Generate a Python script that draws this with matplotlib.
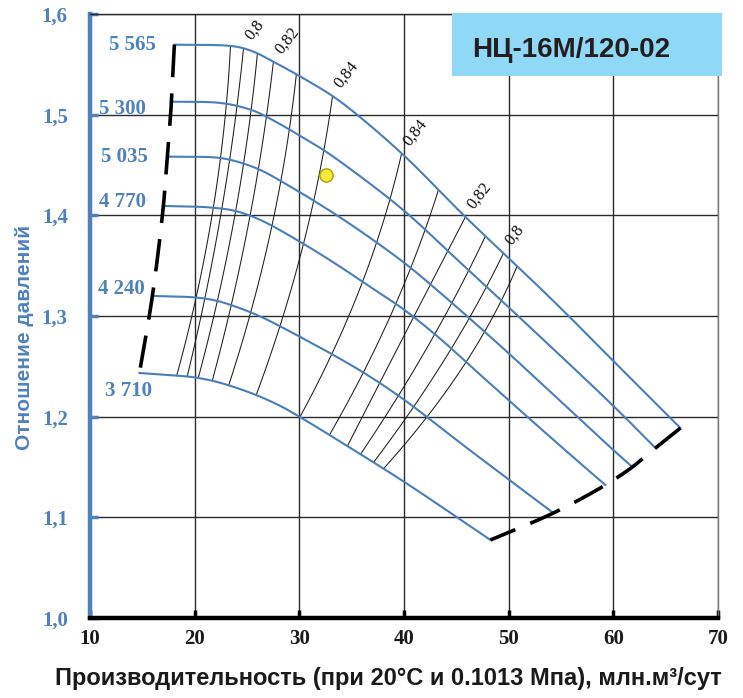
import numpy as np
import matplotlib
matplotlib.use("Agg")
import matplotlib.pyplot as plt
from matplotlib.patches import Rectangle

# ---------------- data ----------------
speed_labels = ["5 565", "5 300", "5 035", "4 770", "4 240", "3 710"]

q_5565 = [18.06, 22.94, 24.37, 25.80, 27.52, 30.01, 33.16, 35.55, 40.04, 45.87, 54.18, 60.10, 66.41]
r_5565 = [1.5695, 1.5687, 1.5667, 1.5618, 1.5526, 1.5384, 1.5186, 1.4997, 1.4590, 1.3984, 1.3159, 1.2543, 1.1887]

q_5300 = [17.78, 21.98, 23.89, 25.80, 27.71, 30.10, 32.30, 34.88, 40.04, 44.91, 50.17, 60.01, 64.02]
r_5300 = [1.5129, 1.5121, 1.5091, 1.5032, 1.4932, 1.4788, 1.4649, 1.4460, 1.4043, 1.3576, 1.3070, 1.2106, 1.1689]

q_5035 = [17.39, 22.17, 24.08, 26.28, 29.15, 32.30, 35.55, 40.04, 43.48, 47.30, 50.07, 60.10, 61.82]
r_5035 = [1.4583, 1.4573, 1.4533, 1.4450, 1.4285, 1.4086, 1.3864, 1.3527, 1.3229, 1.2881, 1.2623, 1.1659, 1.1500]

q_4770 = [17.01, 21.50, 23.89, 26.28, 30.10, 33.64, 36.79, 40.04, 43.48, 47.30, 54.94, 59.24]
r_4770 = [1.4093, 1.4078, 1.4043, 1.3954, 1.3735, 1.3507, 1.3288, 1.3060, 1.2772, 1.2414, 1.1709, 1.1321]

q_4240 = [15.96, 20.07, 21.98, 23.89, 26.28, 28.19, 30.10, 33.25, 36.50, 40.04, 45.39, 50.07, 54.27]
r_4240 = [1.3199, 1.3184, 1.3154, 1.3094, 1.2995, 1.2896, 1.2791, 1.2613, 1.2414, 1.2166, 1.1738, 1.1371, 1.1043]

q_3710 = [14.72, 18.16, 20.07, 21.98, 23.89, 25.99, 28.19, 30.00, 34.88, 40.04, 48.26]
r_3710 = [1.2434, 1.2409, 1.2389, 1.2349, 1.2290, 1.2210, 1.2106, 1.2000, 1.1689, 1.1351, 1.0775]

# iso-efficiency lines: Q values from the 5565 curve down to the 3710 curve,
# with the pressure ratio of the interior points
eff_left_r = [1.385, 1.300]
eff_L1_q = [23.41, 21.50, 19.59, 18.35]
eff_L2_q = [24.66, 22.27, 20.55, 19.31]
eff_L3_q = [25.99, 23.60, 21.79, 20.36]
eff_L4_q = [27.52, 25.04, 23.22, 21.69]
eff_L5_q = [29.72, 27.24, 25.32, 23.22]
eff_L6_q = [33.16, 30.77, 28.38, 25.90]

eff_R1_q = [39.85, 38.51, 35.84, 34.40, 30.00]
eff_R1_r = [1.4152, 1.3328, 1.2861]
eff_R2_q = [43.29, 39.37, 32.87]
eff_R2_r = [1.3159]
eff_R3_q = [45.87, 41.76, 34.59]
eff_R3_r = [1.3159]
eff_R4_q = [47.78, 44.72, 35.84]
eff_R4_r = [1.3159]
eff_R5_q = [49.50, 47.20, 37.08]
eff_R5_r = [1.3159]
eff_R6_q = [50.84, 49.21, 47.30, 38.03]
eff_R6_r = [1.3159, 1.2761]

eff_labels = ["0,8", "0,82", "0,84", "0,84", "0,82", "0,8"]

point_q = [32.5]
point_r = [1.44]

x_ticks = [10, 20, 30, 40, 50, 60, 70]
x_ticklabels = ["10", "20", "30", "40", "50", "60", "70"]
y_ticks = [1.0, 1.1, 1.2, 1.3, 1.4, 1.5, 1.6]
y_ticklabels = ["1,0", "1,1", "1,2", "1,3", "1,4", "1,5", "1,6"]

title = "НЦ-16М/120-02"
xlabel = "Производительность (при 20°C и 0.1013 Мпа), млн.м³/сут"
ylabel = "Отношение давлений"

# ---------------- helpers ----------------
RS = 96.0  # aspect scaling of ratio vs Q for smooth parameterisation


def smooth(q, r, n=30):
    """Centripetal Catmull-Rom spline through the given points."""
    P = np.column_stack([np.asarray(q, float), np.asarray(r, float) * RS])
    if len(P) < 3:
        return P[:, 0], P[:, 1] / RS
    E = np.vstack([2 * P[0] - P[1], P, 2 * P[-1] - P[-2]])
    out = []
    for i in range(1, len(E) - 2):
        p0, p1, p2, p3 = E[i - 1], E[i], E[i + 1], E[i + 2]
        t0 = 0.0
        t1 = t0 + np.linalg.norm(p1 - p0) ** 0.5
        t2 = t1 + np.linalg.norm(p2 - p1) ** 0.5
        t3 = t2 + np.linalg.norm(p3 - p2) ** 0.5
        t = np.linspace(t1, t2, n, endpoint=False)[:, None]
        a1 = (t1 - t) / (t1 - t0) * p0 + (t - t0) / (t1 - t0) * p1
        a2 = (t2 - t) / (t2 - t1) * p1 + (t - t1) / (t2 - t1) * p2
        a3 = (t3 - t) / (t3 - t2) * p2 + (t - t2) / (t3 - t2) * p3
        b1 = (t2 - t) / (t2 - t0) * a1 + (t - t0) / (t2 - t0) * a2
        b2 = (t3 - t) / (t3 - t1) * a2 + (t - t1) / (t3 - t1) * a3
        c = (t2 - t) / (t2 - t1) * b1 + (t - t1) / (t2 - t1) * b2
        out.append(c)
    out.append(P[-1:])
    S = np.vstack(out)
    return S[:, 0], S[:, 1] / RS


BLUE = "#4f81bd"
CURVE = "#4a7ebb"

fig = plt.figure(figsize=(7.43, 6.98), dpi=100)
ax = fig.add_axes([90 / 743, 80 / 698, 628 / 743, 604 / 698])
ax.set_xlim(10, 70)
ax.set_ylim(1.0, 1.6)

ax.set_axisbelow(True)
ax.grid(True, color="#2b2b2b", lw=1.0)
ax.set_xticks(x_ticks)
ax.set_yticks(y_ticks)
ax.set_xticklabels(x_ticklabels, fontfamily="Liberation Serif", fontweight="bold",
                   fontsize=15, color="#1a1a1a")
ax.set_yticklabels(y_ticklabels, fontfamily="Liberation Serif", fontweight="bold",
                   fontsize=15, color=BLUE)
ax.tick_params(axis="y", direction="in", length=6, width=2.5, color=BLUE, pad=16)
ax.tick_params(axis="x", direction="in", length=6, width=2.5, color="black", pad=8)
ax.spines["left"].set_color(BLUE)
ax.spines["left"].set_linewidth(3.2)
ax.spines["bottom"].set_color("black")
ax.spines["bottom"].set_linewidth(3.2)
ax.spines["top"].set_color("#2b2b2b")
ax.spines["top"].set_linewidth(1.0)
ax.spines["right"].set_color("#777777")
ax.spines["right"].set_linewidth(1.0)

curves_q = [q_5565, q_5300, q_5035, q_4770, q_4240, q_3710]
curves_r = [r_5565, r_5300, r_5035, r_4770, r_4240, r_3710]

for q, r in zip(curves_q, curves_r):
    sq, sr = smooth(q, r)
    ax.plot(sq, sr, color=CURVE, lw=1.5, zorder=3)


def eff_line(qs, rs_interior):
    r_top = float(np.interp(qs[0], q_5565, r_5565))
    r_bot = float(np.interp(qs[-1], q_3710, r_3710))
    rs = np.array([r_top] + list(rs_interior) + [r_bot])
    coef = np.polyfit(rs, qs, 2)
    rr = np.linspace(r_top, r_bot, 80)
    ax.plot(np.polyval(coef, rr), rr, color="#1e1e1e", lw=0.75, zorder=2)
    return float(np.polyval(coef, r_top)), r_top


tops = {}
for name, qs in [("L1", eff_L1_q), ("L2", eff_L2_q), ("L3", eff_L3_q),
                 ("L4", eff_L4_q), ("L5", eff_L5_q), ("L6", eff_L6_q)]:
    tops[name] = eff_line(qs, eff_left_r)
for name, qs, rs in [("R1", eff_R1_q, eff_R1_r), ("R2", eff_R2_q, eff_R2_r),
                     ("R3", eff_R3_q, eff_R3_r), ("R4", eff_R4_q, eff_R4_r),
                     ("R5", eff_R5_q, eff_R5_r), ("R6", eff_R6_q, eff_R6_r)]:
    tops[name] = eff_line(qs, rs)

for lab, key in zip(eff_labels, ["L2", "L4", "L6", "R1", "R3", "R5"]):
    xq, yr = tops[key]
    ax.annotate(lab, (xq, yr), xytext=(5.5, 5.5), textcoords="offset points",
                rotation=52, rotation_mode="anchor", ha="left", va="baseline",
                fontfamily="Liberation Serif", fontsize=12, color="#111111", zorder=4)

# boundary (dashed) lines through curve ends
start_q = [q[0] for q in curves_q]
start_r = [r[0] for r in curves_r]
end_q = [q[-1] for q in curves_q]
end_r = [r[-1] for r in curves_r]
sq, sr = smooth(start_q, start_r)
ax.plot(sq, sr, color="black", lw=2.6, ls=(0, (9, 4.5)), dash_capstyle="butt", zorder=5)
sq, sr = smooth(end_q, end_r)
ax.plot(sq, sr, color="black", lw=2.6, ls=(0, (9, 4.5)), dash_capstyle="butt", zorder=5)

# speed labels
label_offsets = [(-30, 0), (-35, -5), (-31, 0), (-29.5, 3), (-22, 5), (-8, -13)]
for lab, q, r, off in zip(speed_labels, start_q, start_r, label_offsets):
    ax.annotate(lab, (q, r), xytext=off, textcoords="offset points",
                ha="center", va="center", fontfamily="Liberation Serif",
                fontweight="bold", fontsize=15, color=BLUE, zorder=0.3)

# operating point
ax.plot(point_q, point_r, "o", ms=9.5, mfc="#f5ea3c", mec="#b09a00", mew=1.0, zorder=6)

# title box
fig.patches.append(Rectangle((452 / 743, 1 - 76 / 698), 270 / 743, 63 / 698,
                             transform=fig.transFigure, facecolor="#8fd8f6",
                             edgecolor="none", zorder=10))
fig.text(472 / 743, 1 - 56.7 / 698, title, ha="left", va="baseline",
         fontfamily="Liberation Sans", fontweight="bold", fontsize=20,
         color="#231f20", zorder=11)

fig.text(388 / 743, 1 - 678 / 698, xlabel, ha="center", va="center",
         fontfamily="Liberation Sans", fontweight="bold", fontsize=17, color="#1a1a1a")
fig.text(25 / 743, 1 - 337 / 698, ylabel, ha="center", va="center", rotation=90,
         fontfamily="Liberation Sans", fontweight="bold", fontsize=15, color=BLUE)

fig.savefig("out.png", dpi=100)
